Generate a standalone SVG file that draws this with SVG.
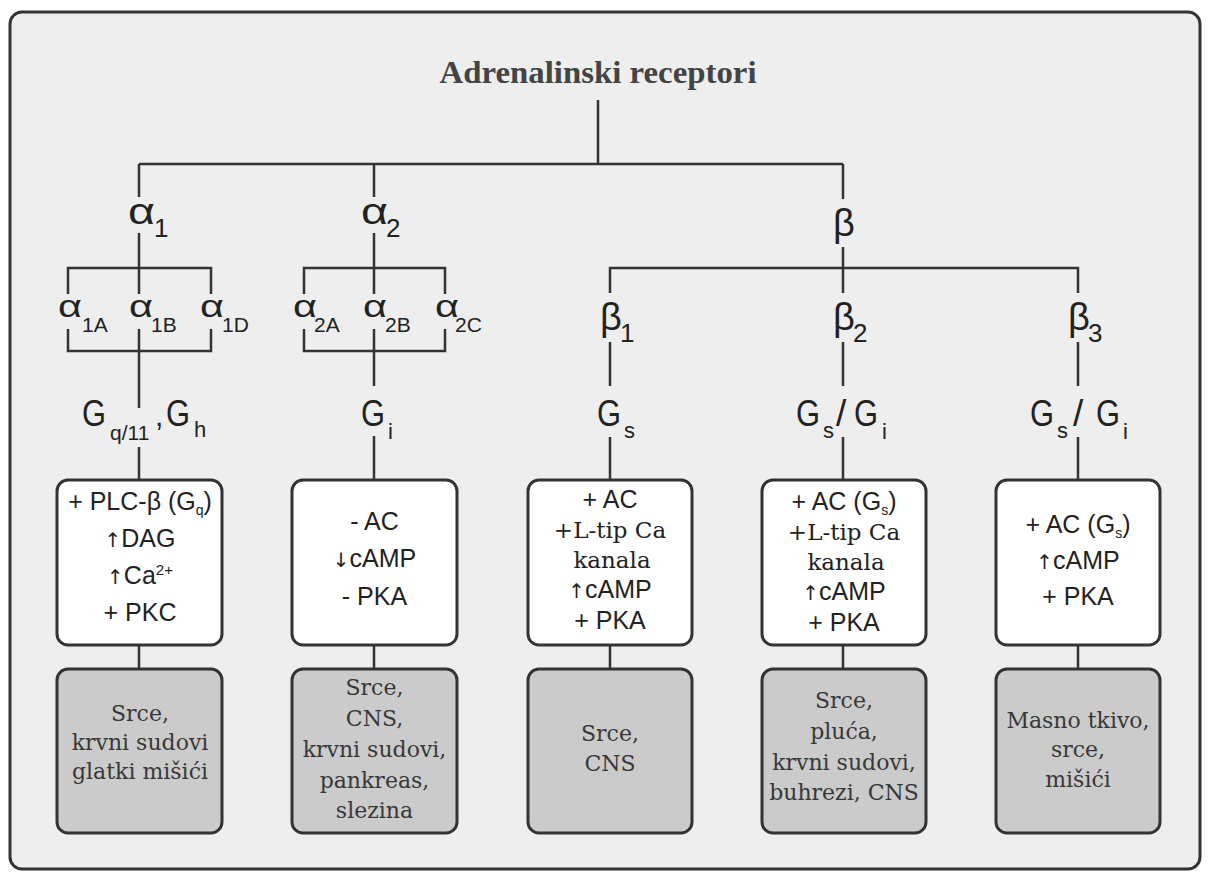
<svg xmlns="http://www.w3.org/2000/svg" width="1208" height="879" viewBox="0 0 1208 879">
<style>
.lbl{font-family:"Liberation Sans",Arial,sans-serif;fill:#222}
.box{font-family:"Liberation Sans",Arial,sans-serif;font-size:25px;fill:#222;text-anchor:middle}
.ar{font-family:"DejaVu Sans",sans-serif;font-size:20px}
.ser{font-family:"DejaVu Serif","Liberation Serif",serif;font-size:23px;fill:#222;text-anchor:middle}
.gt{font-family:"DejaVu Serif","Liberation Serif",serif;font-size:22px;fill:#383838;text-anchor:middle}
.wbox{fill:#fff;stroke:#333;stroke-width:3}
.gbox{fill:#cbcbcb;stroke:#333;stroke-width:3}
.al{font-size:32px}
.as{font-size:21px}
.g{font-size:37px}
.gs{font-size:22px}
.b{font-size:38px}
.bs{font-size:26px}
</style>
<rect x="10" y="12" width="1190" height="857" rx="12" fill="#eeeeee" stroke="#333" stroke-width="3"/>
<g id="title"><text x="598" y="83" text-anchor="middle" font-family="'Liberation Serif','Times New Roman',serif" font-weight="bold" font-size="31" fill="#444" textLength="317" lengthAdjust="spacingAndGlyphs">Adrenalinski receptori</text></g>
<g id="connectors" stroke="#333" stroke-width="2.5" fill="none">
<path d="M598 100V164M139 164H843"/>
<path d="M139 164V197M139 233V294M374 164V197M374 233V294M843 164V199M843 247V293"/>
<path d="M68 294V268H211V294M304 294V268H445V294M610 293V268H1078V293"/>
<path d="M68 329V351H211V329M139 329V408M139 447V480"/>
<path d="M304 329V351H445V329M374 329V386M374 436V480"/>
<path d="M610 342V386M610 437V480M843 342V386M843 437V480M1078 342V386M1078 437V480"/>
<path d="M139 645V669M374 645V669M610 645V669M843 645V669M1078 645V669"/>
</g>
<g id="alpha1" class="lbl"><text x="128" y="224" font-size="36" textLength="27" lengthAdjust="spacingAndGlyphs">α</text><text x="154" y="237" class="bs">1</text></g>
<g id="alpha2" class="lbl"><text x="361" y="224" font-size="36" textLength="27" lengthAdjust="spacingAndGlyphs">α</text><text x="386" y="237" class="bs">2</text></g>
<g id="beta" class="lbl"><text x="833" y="236" class="b">β</text></g>
<g id="alpha1A" class="lbl"><text x="58" y="317" class="al" textLength="24" lengthAdjust="spacingAndGlyphs">α</text><text x="82" y="332" class="as">1A</text></g>
<g id="alpha1B" class="lbl"><text x="129" y="317" class="al" textLength="24" lengthAdjust="spacingAndGlyphs">α</text><text x="151" y="332" class="as">1B</text></g>
<g id="alpha1D" class="lbl"><text x="200" y="317" class="al" textLength="24" lengthAdjust="spacingAndGlyphs">α</text><text x="222" y="332" class="as">1D</text></g>
<g id="alpha2A" class="lbl"><text x="293" y="317" class="al" textLength="24" lengthAdjust="spacingAndGlyphs">α</text><text x="314" y="332" class="as">2A</text></g>
<g id="alpha2B" class="lbl"><text x="363" y="317" class="al" textLength="24" lengthAdjust="spacingAndGlyphs">α</text><text x="385" y="332" class="as">2B</text></g>
<g id="alpha2C" class="lbl"><text x="435" y="317" class="al" textLength="24" lengthAdjust="spacingAndGlyphs">α</text><text x="455" y="332" class="as">2C</text></g>
<g id="beta1" class="lbl"><text x="600" y="330" class="b">β</text><text x="620" y="342" class="bs">1</text></g>
<g id="beta2" class="lbl"><text x="833" y="330" class="b">β</text><text x="853" y="342" class="bs">2</text></g>
<g id="beta3" class="lbl"><text x="1068" y="330" class="b">β</text><text x="1088" y="342" class="bs">3</text></g>
<g id="g-alpha1" class="lbl"><text x="82" y="426" class="g" textLength="24" lengthAdjust="spacingAndGlyphs">G</text><text x="110" y="440" class="as">q/11</text><text x="155" y="426" font-size="30">,</text><text x="166" y="426" class="g" textLength="24" lengthAdjust="spacingAndGlyphs">G</text><text x="194" y="437" class="gs">h</text></g>
<g id="g-alpha2" class="lbl"><text x="361" y="426" class="g" textLength="24" lengthAdjust="spacingAndGlyphs">G</text><text x="388" y="439" class="gs">i</text></g>
<g id="g-beta1" class="lbl"><text x="597" y="426" class="g" textLength="24" lengthAdjust="spacingAndGlyphs">G</text><text x="624" y="438" class="gs">s</text></g>
<g id="g-beta2" class="lbl"><text x="796" y="426" class="g" textLength="24" lengthAdjust="spacingAndGlyphs">G</text><text x="823" y="438" class="gs">s</text><text x="836" y="426" class="g">/</text><text x="854" y="426" class="g" textLength="24" lengthAdjust="spacingAndGlyphs">G</text><text x="882" y="439" class="gs">i</text></g>
<g id="g-beta3" class="lbl"><text x="1030" y="426" class="g" textLength="24" lengthAdjust="spacingAndGlyphs">G</text><text x="1057" y="438" class="gs">s</text><text x="1073" y="426" class="g">/</text><text x="1096" y="426" class="g" textLength="24" lengthAdjust="spacingAndGlyphs">G</text><text x="1123" y="439" class="gs">i</text></g>
<g id="effect-alpha1"><rect class="wbox" x="57" y="480" width="165" height="165" rx="11"/>
<text class="box" x="140" y="510">+ PLC-β (G<tspan font-size="14" dy="5">q</tspan><tspan dy="-5">)</tspan></text>
<text class="box" x="140" y="547"><tspan class="ar">↑</tspan>DAG</text>
<text class="box" x="140" y="584"><tspan class="ar">↑</tspan>Ca<tspan font-size="15" dy="-9">2+</tspan></text>
<text class="box" x="140" y="621">+ PKC</text></g>
<g id="effect-alpha2"><rect class="wbox" x="292" y="480" width="165" height="165" rx="11"/>
<text class="box" x="374.5" y="530">- AC</text>
<text class="box" x="374.5" y="567"><tspan class="ar">↓</tspan>cAMP</text>
<text class="box" x="374.5" y="605">- PKA</text></g>
<g id="effect-beta1"><rect class="wbox" x="528" y="480" width="164" height="165" rx="11"/>
<text class="box" x="610" y="508">+ AC</text>
<text class="ser" x="610" y="538">+L-tip Ca</text>
<text class="ser" x="612" y="568">kanala</text>
<text class="box" x="610" y="598"><tspan class="ar">↑</tspan>cAMP</text>
<text class="box" x="610" y="629">+ PKA</text></g>
<g id="effect-beta2"><rect class="wbox" x="762" y="480" width="164" height="165" rx="11"/>
<text class="box" x="844" y="510">+ AC (G<tspan font-size="14" dy="5">s</tspan><tspan dy="-5">)</tspan></text>
<text class="ser" x="844" y="540">+L-tip Ca</text>
<text class="ser" x="846" y="570">kanala</text>
<text class="box" x="844" y="600"><tspan class="ar">↑</tspan>cAMP</text>
<text class="box" x="844" y="631">+ PKA</text></g>
<g id="effect-beta3"><rect class="wbox" x="996" y="480" width="164" height="165" rx="11"/>
<text class="box" x="1078" y="533">+ AC (G<tspan font-size="14" dy="5">s</tspan><tspan dy="-5">)</tspan></text>
<text class="box" x="1078" y="569"><tspan class="ar">↑</tspan>cAMP</text>
<text class="box" x="1078" y="605">+ PKA</text></g>
<g id="tissue-alpha1"><rect class="gbox" x="57" y="669" width="165" height="164" rx="11"/>
<text class="gt" x="140" y="721">Srce,</text>
<text class="gt" x="140" y="750">krvni sudovi</text>
<text class="gt" x="140" y="779">glatki mišići</text></g>
<g id="tissue-alpha2"><rect class="gbox" x="292" y="669" width="165" height="164" rx="11"/>
<text class="gt" x="374.5" y="695">Srce,</text>
<text class="gt" x="374.5" y="726">CNS,</text>
<text class="gt" x="374.5" y="757">krvni sudovi,</text>
<text class="gt" x="374.5" y="788">pankreas,</text>
<text class="gt" x="374.5" y="818">slezina</text></g>
<g id="tissue-beta1"><rect class="gbox" x="528" y="669" width="164" height="164" rx="11"/>
<text class="gt" x="610" y="741">Srce,</text>
<text class="gt" x="610" y="771">CNS</text></g>
<g id="tissue-beta2"><rect class="gbox" x="762" y="669" width="164" height="164" rx="11"/>
<text class="gt" x="844" y="708">Srce,</text>
<text class="gt" x="844" y="739">pluća,</text>
<text class="gt" x="844" y="770">krvni sudovi,</text>
<text class="gt" x="844" y="800">buhrezi, CNS</text></g>
<g id="tissue-beta3"><rect class="gbox" x="996" y="669" width="164" height="164" rx="11"/>
<text class="gt" x="1078" y="728">Masno tkivo,</text>
<text class="gt" x="1078" y="757">srce,</text>
<text class="gt" x="1078" y="787">mišići</text></g>
</svg>
